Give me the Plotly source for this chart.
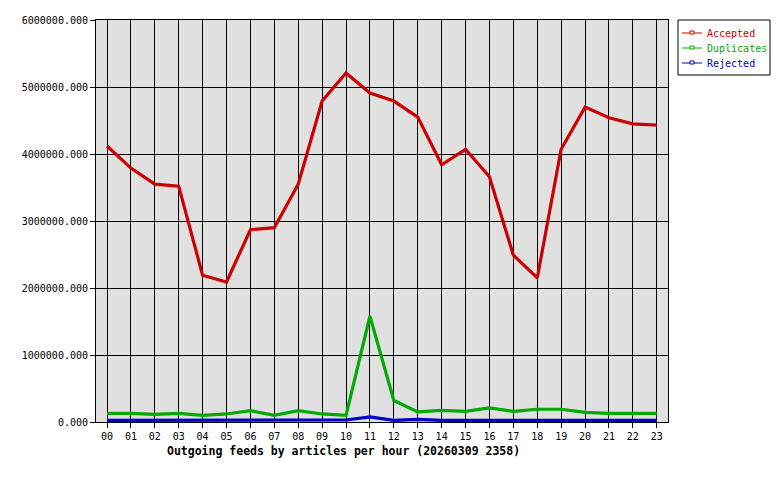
import plotly.graph_objects as go

hours = [f"{h:02d}" for h in range(24)]
accepted = [4120000, 3790000, 3550000, 3520000, 2190000, 2090000, 2870000, 2900000,
            3550000, 4790000, 5210000, 4910000, 4790000, 4550000, 3840000, 4070000,
            3660000, 2490000, 2150000, 4070000, 4700000, 4540000, 4450000, 4430000]
duplicates = [130000, 130000, 115000, 130000, 100000, 120000, 170000, 100000,
              170000, 120000, 100000, 1580000, 320000, 150000, 175000, 160000,
              210000, 160000, 190000, 190000, 145000, 130000, 130000, 130000]
rejected = [25000, 25000, 25000, 25000, 25000, 25000, 25000, 25000,
            25000, 25000, 30000, 75000, 25000, 40000, 25000, 25000,
            25000, 25000, 25000, 25000, 25000, 25000, 25000, 25000]
yticks = [0, 1000000, 2000000, 3000000, 4000000, 5000000, 6000000]
title = "Outgoing feeds by articles per hour (20260309 2358)"
names = ["Accepted", "Duplicates", "Rejected"]
colors = ["#cc0000", "#00aa00", "#0000cc"]

FONT = "DejaVu Sans Mono"
L, R, T, B = 96, 112, 20, 58
PW = 780 - L - R
PH = 480 - T - B


def px(x):
    return (x - L) / PW


def py(y):
    return (T + PH - y) / PH


fig = go.Figure()
xs = list(range(24))
for name, vals, col in zip(names, [accepted, duplicates, rejected], colors):
    fig.add_trace(go.Scatter(
        x=xs, y=vals, mode="lines", name=name, showlegend=False,
        line=dict(color=col, width=3.2)))

# legend box drawn in paper coordinates
shapes = [dict(type="rect", xref="paper", yref="paper",
               x0=px(678), x1=px(770), y0=py(20), y1=py(75),
               line=dict(color="black", width=1), fillcolor="white", layer="above")]
annotations = []
for i, (name, col) in enumerate(zip(names, colors)):
    yy = 33 + 15 * i
    shapes.append(dict(type="line", xref="paper", yref="paper",
                       x0=px(682), x1=px(702), y0=py(yy), y1=py(yy),
                       line=dict(color=col, width=1), layer="above"))
    shapes.append(dict(type="rect", xref="paper", yref="paper",
                       x0=px(690), x1=px(694), y0=py(yy - 2), y1=py(yy + 1),
                       line=dict(color=col, width=1), fillcolor="white", layer="above"))
    annotations.append(dict(text=name, xref="paper", yref="paper",
                            x=px(705), y=py(yy), xanchor="left", yanchor="middle",
                            showarrow=False,
                            font=dict(family=FONT, size=10, color=col)))

annotations.append(dict(text=f"<b>{title}</b>", xref="paper", yref="paper",
                        x=px(343), y=py(451), xanchor="center",
                        yanchor="middle", showarrow=False,
                        font=dict(family=FONT, size=11.5, color="black")))

fig.update_layout(
    width=780, height=480,
    margin=dict(l=L, r=R, t=T, b=B, autoexpand=False),
    paper_bgcolor="white", plot_bgcolor="#e0e0e0",
    font=dict(family=FONT, size=10, color="black"),
    showlegend=False,
    shapes=shapes,
    annotations=annotations,
)
fig.update_xaxes(range=[-0.46, 23.47], tickmode="array", tickvals=xs, ticktext=hours,
                 showgrid=True, gridcolor="black", gridwidth=1,
                 showline=True, linecolor="black", linewidth=1, mirror=True,
                 ticks="outside", ticklen=5, tickcolor="black",
                 tickfont=dict(family=FONT, size=10), zeroline=False)
fig.update_yaxes(range=[0, 6000000], tickmode="array", tickvals=yticks,
                 tickformat=".3f",
                 showgrid=True, gridcolor="black", gridwidth=1,
                 showline=True, linecolor="black", linewidth=1, mirror=True,
                 ticks="outside", ticklen=5, tickcolor="black",
                 tickfont=dict(family=FONT, size=10), zeroline=False)

fig.write_html("out.html", config={"displayModeBar": False},
               post_script="document.body.style.margin='0';")
